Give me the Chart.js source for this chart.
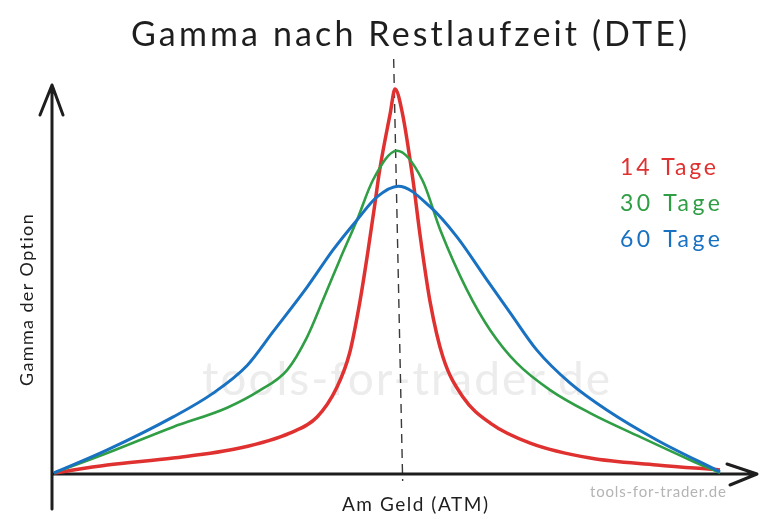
<!DOCTYPE html>
<html>
<head>
<meta charset="utf-8">
<script src="https://cdn.jsdelivr.net/npm/chart.js@4.4.1/dist/chart.umd.min.js"></script>
<style>
  html, body { margin: 0; padding: 0; background: #fff; }
  #wrap { width: 768px; height: 532px; }
</style>
</head>
<body>
<div id="wrap"><canvas id="myChart" width="768" height="532"></canvas></div>
<script>
// strike position (0 = far left, 100 = far right), gamma in % of the 14 day peak
const xs_14 = [0, 8.0, 17.9, 27.9, 35.4, 39.5, 42.5, 44.4, 45.9, 47.1, 48.2, 48.9, 50.5, 51.2, 52.3, 53.9, 55.0, 56.5, 58.4, 61.4, 65.5, 71.5, 80.5, 90.5, 100]
const gamma_14 = [0, 2.1, 3.9, 6.5, 10.4, 14.6, 22.4, 31.3, 44.3, 57.3, 70.3, 78.9, 93.8, 100, 93.8, 76.3, 61.5, 44.3, 30.2, 19.8, 13.0, 7.8, 3.9, 2.1, 0.8]

const xs_30 = [0, 8.0, 17.9, 26.0, 30.9, 35.0, 38.0, 40.4, 42.9, 45.5, 47.9, 51.5, 55.3, 58.0, 62.0, 65.5, 69.5, 74.5, 80.5, 88.0, 95.5, 100]
const gamma_30 = [0, 5.2, 12.0, 17.0, 21.5, 26.8, 35.4, 45.1, 55.5, 65.9, 76.3, 83.9, 76.3, 63.3, 47.7, 37.2, 28.6, 21.6, 15.6, 9.4, 3.4, 0]

const xs_60 = [0, 8.0, 17.9, 23.9, 29.0, 32.9, 38.0, 41.9, 45.5, 48.5, 51.7, 56.5, 60.5, 65.0, 68.5, 72.5, 77.5, 83.0, 90.5, 100]
const gamma_60 = [0, 6.0, 14.6, 20.8, 28.0, 36.8, 48.4, 58.1, 65.9, 71.9, 74.7, 69.3, 61.5, 50.3, 41.7, 32.0, 23.4, 16.4, 8.6, 0.3]

const labels = ["14 Tage", "30 Tage", "60 Tage"]
const colors = ["#e03131", "#2f9e44", "#1971c2"]
const widths = [3.5, 2.6, 3]
const atm_x = 51.3

const FONT = "Lato, 'Noto Sans', sans-serif"

function to_points(xs, ys){
    return xs.map((x, i) => ({x: x, y: ys[i]}))
}

// draw text stretched to a given width (the original uses a wide hand drawn font)
function wide_text(ctx, text, cx, cy, size, width, color, rot){
    ctx.save()
    ctx.font = `${size}px ${FONT}`
    ctx.fillStyle = color
    ctx.textBaseline = "middle"
    ctx.textAlign = "left"
    const w = ctx.measureText(text).width
    const sp = (width - w) / (text.length - 1)
    if ("letterSpacing" in ctx) ctx.letterSpacing = sp + "px"
    ctx.translate(cx, cy)
    if (rot) ctx.rotate(rot)
    ctx.fillText(text, -width / 2, 0)
    ctx.restore()
}

const sketch_plugin = {
    id: "sketch",
    beforeDatasetsDraw(chart){
        const ctx = chart.ctx
        const xs = chart.scales.x
        const ys = chart.scales.y
        const x0 = xs.getPixelForValue(0) - 2
        const y0 = ys.getPixelForValue(0) + 1

        // watermark
        wide_text(ctx, "tools-for-trader.de", 406, 380, 46, 408, "#ececec")

        // dashed ATM line
        ctx.save()
        ctx.strokeStyle = "#3a3a3a"
        ctx.lineWidth = 1.4
        ctx.setLineDash([9, 6])
        ctx.beginPath()
        ctx.moveTo(xs.getPixelForValue(atm_x) - 2, chart.chartArea.top - 30)
        ctx.lineTo(xs.getPixelForValue(atm_x) + 7, y0 + 7)
        ctx.stroke()
        ctx.restore()

        // axes with arrow heads
        ctx.save()
        ctx.strokeStyle = "#1e1e1e"
        ctx.lineWidth = 3
        ctx.lineCap = "round"
        ctx.lineJoin = "round"
        ctx.beginPath()
        ctx.moveTo(x0, y0 + 35)
        ctx.lineTo(x0, chart.chartArea.top - 4)
        ctx.moveTo(x0 - 12, chart.chartArea.top + 26)
        ctx.lineTo(x0, chart.chartArea.top - 4)
        ctx.lineTo(x0 + 11, chart.chartArea.top + 26)
        ctx.moveTo(x0, y0)
        ctx.lineTo(757, y0)
        ctx.moveTo(727, y0 - 10)
        ctx.lineTo(757, y0)
        ctx.lineTo(730, y0 + 11)
        ctx.stroke()
        ctx.restore()
    },
    afterDraw(chart){
        const ctx = chart.ctx
        wide_text(ctx, "Gamma nach Restlaufzeit (DTE)", 409, 35, 34, 556, "#1e1e1e")
        wide_text(ctx, "Gamma der Option", 27, 300, 18, 172, "#1e1e1e", -Math.PI / 2)
        wide_text(ctx, "Am Geld (ATM)", 415, 505, 19, 146, "#1e1e1e")
        wide_text(ctx, "tools-for-trader.de", 658, 492, 15, 136, "#b4b4b4")
        const legend_y = [168, 204, 240]
        const legend_w = [96, 100, 100]
        labels.forEach((l, i) => {
            wide_text(ctx, l, 620 + legend_w[i] / 2, legend_y[i], 23, legend_w[i], colors[i])
        })
    }
}

const sets = [to_points(xs_14, gamma_14), to_points(xs_30, gamma_30), to_points(xs_60, gamma_60)]

const ctx = document.getElementById("myChart").getContext("2d")
const myChart = new Chart(ctx, {
    type: "line",
    data: {
        datasets: sets.map((d, i) => ({
            label: labels[i],
            data: d,
            borderColor: colors[i],
            borderWidth: widths[i],
            pointRadius: 0,
            cubicInterpolationMode: "monotone",
            fill: false,
            clip: false
        })).reverse()
    },
    options: {
        responsive: false,
        animation: false,
        layout: {padding: {left: 54, right: 48, top: 89, bottom: 59}},
        plugins: {legend: {display: false}, title: {display: false}, tooltip: {enabled: false}},
        scales: {
            x: {type: "linear", min: 0, max: 100, display: false},
            y: {min: 0, max: 100, display: false}
        }
    },
    plugins: [sketch_plugin]
})
</script>
</body>
</html>
